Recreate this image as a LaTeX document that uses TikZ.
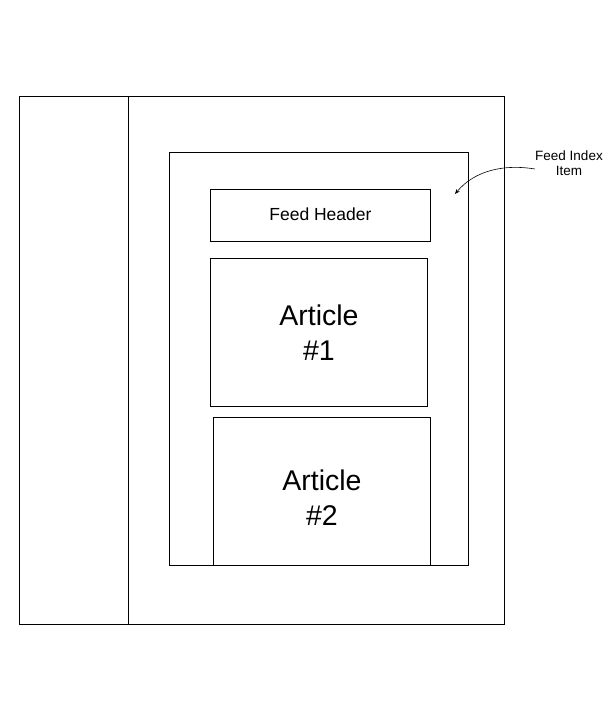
\documentclass[tikz,border=0pt]{standalone}
\usepackage{fontspec}
\setmainfont{Liberation Sans}
\usetikzlibrary{arrows.meta}
\begin{document}
\begin{tikzpicture}[x=1pt,y=-1pt,
  box/.style={draw=black, line width=0.9pt, fill=white},
  lbl/.style={font=\fontsize{#1}{#1}\selectfont, align=center, inner sep=0pt}]
\useasboundingbox (0,0) rectangle (614,705);
\node[box, minimum width=485pt, minimum height=528pt, inner sep=0pt, anchor=north west] (page) at (19,96) {};
\coordinate (splitTop) at (128,96);
\coordinate (splitBot) at (128,624);
\draw[line width=0.9pt] (splitTop) -- (splitBot);
\node[box, minimum width=299pt, minimum height=413pt, inner sep=0pt, anchor=north west] (item) at (169,152) {};
\node[box, minimum width=220pt, minimum height=52pt, inner sep=0pt, anchor=north west] (header) at (210,189) {};
\node[lbl=17.5] at ([yshift=1pt]header.center) {Feed Header};
\node[box, minimum width=217pt, minimum height=148pt, inner sep=0pt, anchor=north west] (art1) at (210,258) {};
\node[lbl=28.5] at (art1.center) {Article\\[6pt]\#1};
\node[box, minimum width=217pt, minimum height=148pt, inner sep=0pt, anchor=north west] (art2) at (213,417) {};
\node[lbl=28.5] at ([yshift=-6pt]art2.center) {Article\\[6pt]\#2};
\draw[line width=0.9pt] (169,565) -- (468,565);
\node[lbl=13.5] (note) at (569,163) {Feed Index\\[2pt]Item};
\coordinate (tip) at (455,194);
\draw[-{Stealth[length=5pt,width=4pt]}, line width=0.6pt] (535,169) .. controls (505,164) and (475,170) .. (tip);
\end{tikzpicture}
\end{document}
